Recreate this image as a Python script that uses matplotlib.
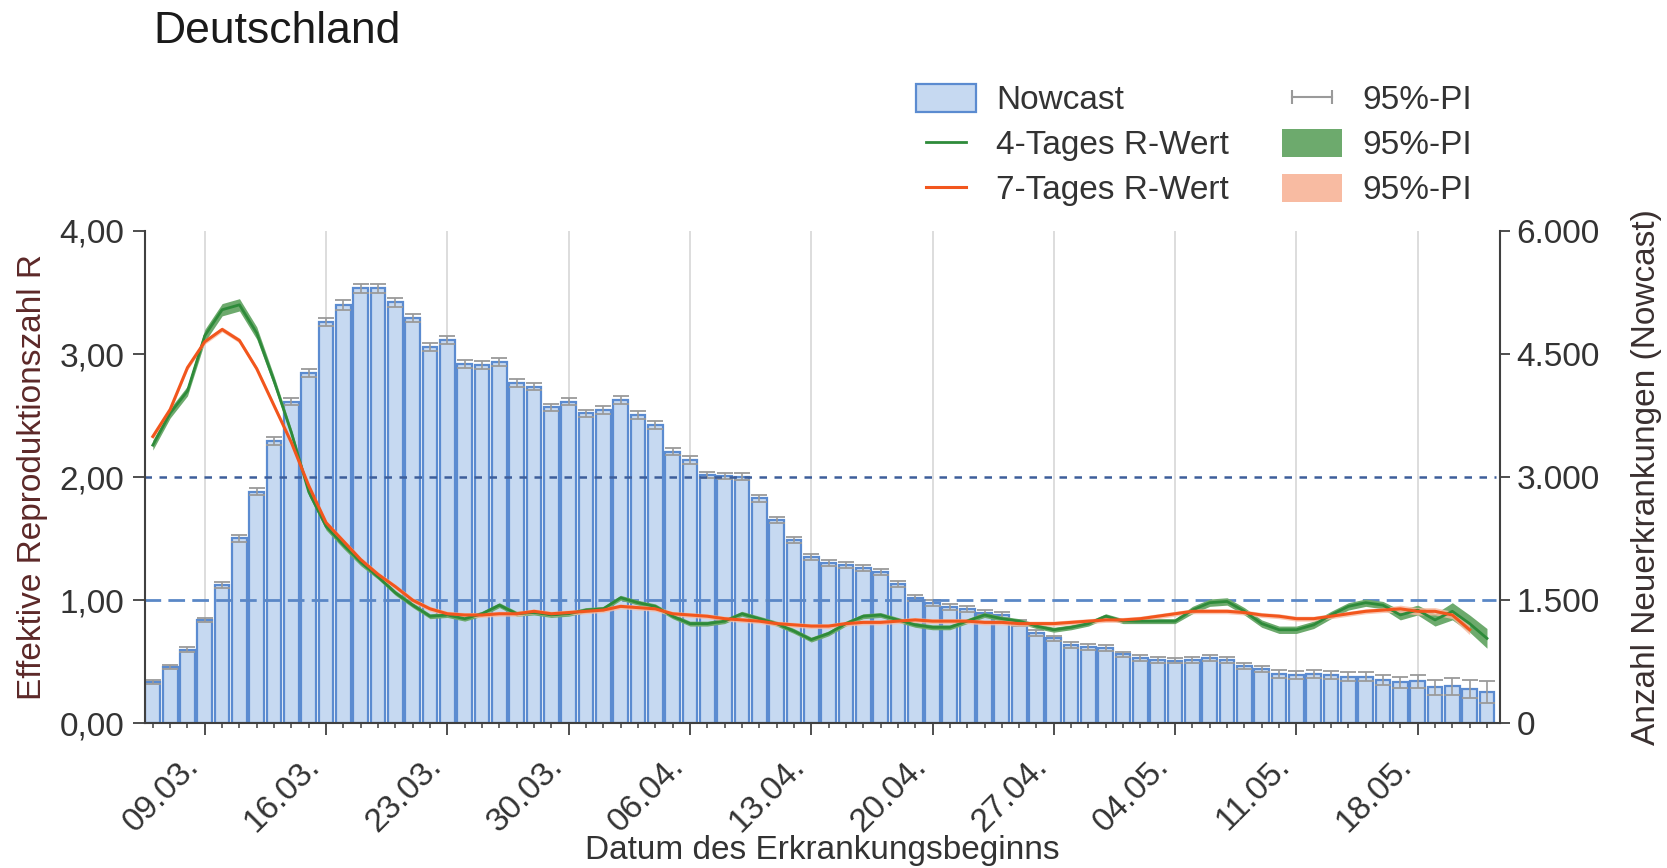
import numpy as np
import pandas as pd
import matplotlib
matplotlib.use("Agg")
import matplotlib.pyplot as plt
from matplotlib.patches import Patch
from matplotlib.lines import Line2D

plt.rcParams['font.family'] = ['Liberation Sans', 'DejaVu Sans']
plt.rcParams['font.size'] = 24

# Erkrankungsbeginn 06.03. - 22.05.
dates = pd.date_range('2020-03-06', '2020-05-22', freq='D')

nowcast = [508, 690, 894, 1259, 1686, 2254, 2823, 3440, 3920, 4265,
           4895, 5098, 5301, 5301, 5130, 4935, 4590, 4671, 4379, 4367,
           4407, 4143, 4103, 3850, 3920, 3778, 3818, 3940, 3757, 3635,
           3310, 3209, 3026, 3014, 3006, 2742, 2478, 2234, 2023, 1950,
           1929, 1889, 1840, 1700, 1530, 1470, 1420, 1390, 1350, 1320,
           1220, 1100, 1035, 955, 930, 920, 840, 800, 770, 765,
           772, 795, 772, 700, 660, 600, 590, 600, 589, 565,
           570, 530, 500, 512, 440, 450, 420, 380]

nowcast_err = [25, 25, 30, 30, 35, 40, 40, 45, 45, 50,
               50, 55, 55, 55, 55, 50, 50, 50, 50, 50,
               50, 50, 45, 45, 45, 45, 45, 45, 45, 45,
               45, 45, 40, 40, 40, 40, 40, 40, 35, 35,
               35, 35, 35, 35, 35, 35, 35, 35, 35, 35,
               35, 35, 35, 35, 35, 35, 35, 35, 35, 35,
               40, 40, 40, 40, 40, 45, 45, 50, 50, 55,
               60, 60, 70, 80, 90, 100, 110, 130]

r4 = [2.26, 2.52, 2.70, 3.15, 3.36, 3.40, 3.17, 2.78, 2.36, 1.88,
      1.60, 1.45, 1.31, 1.19, 1.06, 0.96, 0.87, 0.88, 0.85, 0.89,
      0.96, 0.89, 0.90, 0.88, 0.89, 0.92, 0.93, 1.02, 0.98, 0.95,
      0.87, 0.81, 0.81, 0.83, 0.89, 0.85, 0.81, 0.75, 0.68, 0.73,
      0.81, 0.87, 0.88, 0.84, 0.80, 0.78, 0.78, 0.83, 0.88, 0.85,
      0.83, 0.79, 0.76, 0.78, 0.81, 0.87, 0.83, 0.83, 0.83, 0.83,
      0.92, 0.98, 0.99, 0.91, 0.81, 0.76, 0.76, 0.80, 0.88, 0.95,
      0.98, 0.96, 0.88, 0.92, 0.84, 0.91, 0.81, 0.69]

r4_pi = [0.04, 0.04, 0.04, 0.05, 0.05, 0.05, 0.05, 0.04, 0.03, 0.03,
         0.03, 0.03, 0.03, 0.02, 0.02, 0.02, 0.02, 0.02, 0.02, 0.02,
         0.02, 0.02, 0.02, 0.02, 0.02, 0.02, 0.02, 0.02, 0.02, 0.02,
         0.02, 0.02, 0.02, 0.02, 0.02, 0.02, 0.02, 0.02, 0.02, 0.02,
         0.02, 0.02, 0.02, 0.02, 0.02, 0.02, 0.02, 0.02, 0.02, 0.02,
         0.02, 0.02, 0.02, 0.02, 0.02, 0.02, 0.02, 0.02, 0.02, 0.02,
         0.03, 0.03, 0.03, 0.03, 0.03, 0.03, 0.03, 0.03, 0.03, 0.03,
         0.03, 0.03, 0.04, 0.04, 0.05, 0.07, 0.07, 0.08]

r7 = [2.33, 2.55, 2.89, 3.10, 3.20, 3.11, 2.88, 2.58, 2.28, 1.93,
      1.63, 1.48, 1.33, 1.21, 1.11, 1.00, 0.93, 0.89, 0.88, 0.88,
      0.89, 0.89, 0.91, 0.89, 0.90, 0.91, 0.92, 0.95, 0.94, 0.93,
      0.89, 0.88, 0.87, 0.85, 0.84, 0.83, 0.81, 0.80, 0.79, 0.79,
      0.81, 0.82, 0.82, 0.83, 0.84, 0.83, 0.83, 0.83, 0.82, 0.82,
      0.81, 0.81, 0.81, 0.82, 0.83, 0.84, 0.84, 0.85, 0.87, 0.89,
      0.91, 0.91, 0.91, 0.90, 0.88, 0.87, 0.85, 0.85, 0.87, 0.89,
      0.91, 0.92, 0.93, 0.91, 0.91, 0.88, 0.76]

r7_pi = [0.02] * 70 + [0.02, 0.02, 0.03, 0.03, 0.03, 0.03, 0.04]

week_labels = ['09.03.', '16.03.', '23.03.', '30.03.', '06.04.', '13.04.',
               '20.04.', '27.04.', '04.05.', '11.05.', '18.05.']

x = np.arange(len(dates))
day_labels = [d.strftime('%d.%m.') for d in dates]
week_pos = [day_labels.index(lbl) for lbl in week_labels]

bar_fc = '#C6D9F1'
bar_ec = '#5B8BD0'
green = '#2E8B3A'
green_band = '#6DAA6D'
orange = '#F2561D'
orange_band = '#F8BBA2'
err_col = '#9A9A9A'
text_col = '#333333'

fig = plt.figure(figsize=(16.67, 8.68), dpi=100)
ax = fig.add_axes([0.0870, 0.1667, 0.8128, 0.5672])
ax2 = ax.twinx()

# Nowcast bars on the right axis
for p in week_pos:
    ax2.axvline(p, color='#DADADA', linewidth=1.3, zorder=0)
ax2.bar(x, nowcast, width=0.85, color=bar_fc, edgecolor=bar_ec,
        linewidth=1.6, zorder=2)
ax2.errorbar(x, nowcast, yerr=nowcast_err, fmt='none', ecolor=err_col,
             elinewidth=1.2, capsize=5.5, capthick=1.3, zorder=3)
ax2.set_ylim(0, 6000)
ax2.set_yticks([0, 1500, 3000, 4500, 6000])
ax2.set_yticklabels(['0', '1.500', '3.000', '4.500', '6.000'])

ax.set_zorder(ax2.get_zorder() + 1)
ax.patch.set_visible(False)

# reference lines
ax.hlines(2, x[0] - 0.5, x[-1] + 0.5, colors='#3D5E9A', linestyles=(0, (3, 3)),
          linewidth=1.8, zorder=2)
ax.hlines(1, x[0] - 0.5, x[-1] + 0.5, colors='#5A87C6', linestyles=(0, (6, 2.6)),
          linewidth=2.0, zorder=2)

# R values with prediction intervals
x4 = x[:len(r4)]
x7 = x[:len(r7)]
ax.fill_between(x4, np.array(r4) - np.array(r4_pi), np.array(r4) + np.array(r4_pi),
                color=green_band, linewidth=0, zorder=3)
ax.fill_between(x7, np.array(r7) - np.array(r7_pi), np.array(r7) + np.array(r7_pi),
                color=orange_band, linewidth=0, alpha=0.8, zorder=3)
ax.plot(x4, r4, color=green, linewidth=2.0, zorder=4)
ax.plot(x7, r7, color=orange, linewidth=2.2, zorder=5)

ax.set_ylim(0, 4)
ax.set_xlim(-0.45, 77.75)
ax.set_yticks([0, 1, 2, 3, 4])
ax.set_yticklabels(['0,00', '1,00', '2,00', '3,00', '4,00'])
ax.set_xticks(week_pos)
ax.set_xticklabels(week_labels, rotation=45, ha='right')
ax.set_xticks(x, minor=True)

for a in (ax, ax2):
    a.spines['top'].set_visible(False)
    for s in a.spines.values():
        s.set_color('#404040')
        s.set_linewidth(1.5)
ax.spines['right'].set_visible(False)
ax2.spines['left'].set_visible(False)
ax2.spines['bottom'].set_visible(False)

ax.tick_params(axis='x', which='major', length=8.5, width=1.3, color='#404040',
               pad=11, labelcolor=text_col)
ax.tick_params(axis='x', which='minor', length=3.5, width=1.1, color='#404040')
ax.tick_params(axis='y', length=9, width=1.3, color='#404040', pad=6, labelcolor=text_col)
ax2.tick_params(axis='y', length=7, width=1.3, color='#404040', pad=5, labelcolor=text_col)

ax.set_ylabel('Effektive Reproduktionszahl R', color='#5C2828', va='center')
ax.yaxis.set_label_coords(-0.083, 0.5)
ax2.set_ylabel('Anzahl Neuerkrankungen (Nowcast)', color='#3A3030', va='center')
ax2.yaxis.set_label_coords(1.108, 0.5)
ax.set_xlabel('Datum des Erkrankungsbeginns', color=text_col, va='center')
ax.xaxis.set_label_coords(0.5, -0.258)

fig.text(153 / 1667, 1 - 43 / 868, 'Deutschland', fontsize=32, color='#1A1A1A',
         va='baseline')

handles = [
    Patch(facecolor=bar_fc, edgecolor=bar_ec, linewidth=1.6),
    Line2D([], [], color=green, linewidth=2.0),
    Line2D([], [], color=orange, linewidth=2.2),
    Line2D([], [], color=err_col, linewidth=1.5, marker='|', markersize=10,
           markeredgewidth=1.5),
    Patch(facecolor=green_band, edgecolor='none'),
    Patch(facecolor=orange_band, edgecolor='none'),
]
labels = ['Nowcast', '4-Tages R-Wert', '7-Tages R-Wert', '95%-PI', '95%-PI', '95%-PI']
fig.legend(handles, labels, ncol=2, loc='upper left',
           bbox_to_anchor=(916 / 1667, 1 - 84 / 868), frameon=False,
           borderaxespad=0, borderpad=0, numpoints=2, handlelength=1.8,
           handleheight=0.9, handletextpad=0.6, columnspacing=1.6,
           labelspacing=0.38, labelcolor=text_col)

fig.savefig('out.png', dpi=100, facecolor='white')
